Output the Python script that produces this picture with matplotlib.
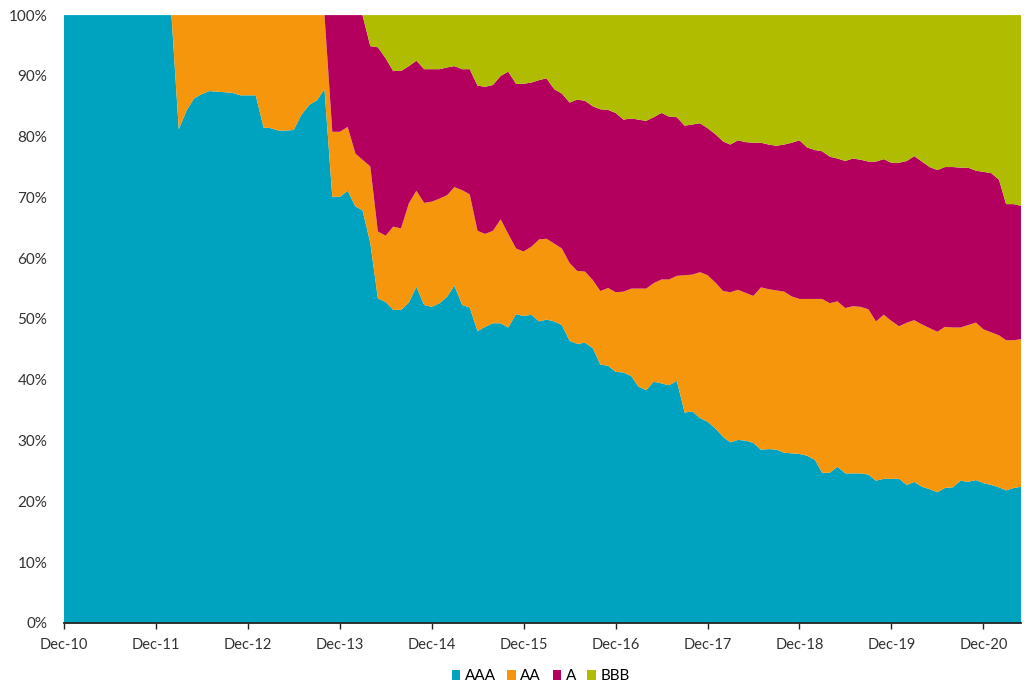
# Rating mix of the portfolio over time, 100% stacked area chart

import matplotlib
matplotlib.use('Agg')
import matplotlib.pyplot as plt
import matplotlib.dates as mdates
import numpy as np
import pandas as pd

plt.rcParams['font.family'] = ['Lato', 'DejaVu Sans']

# monthly, Dec-10 to May-21
months = pd.date_range('2010-12-01', periods=126, freq='MS')

aaa = [100] * 15 + [
    81.2, 84.3, 86.3, 87.0, 87.5, 87.4, 87.3, 87.2, 86.8, 86.8,
    86.8, 81.5, 81.4, 81.0, 81.0, 81.1, 83.6, 85.2, 86.0, 87.8,
    70.1, 70.1, 71.1, 68.5, 67.9, 62.5, 53.4, 52.8, 51.5, 51.5,
    52.7, 55.3, 52.3, 52.0, 52.6, 53.7, 55.5, 52.3, 51.9, 48.0,
    48.7, 49.3, 49.3, 48.6, 50.8, 50.5, 50.7, 49.6, 49.9, 49.6,
    49.0, 46.4, 45.9, 46.1, 45.2, 42.5, 42.3, 41.3, 41.2, 40.6,
    38.9, 38.3, 39.7, 39.4, 39.1, 39.8, 34.6, 34.8, 33.7, 33.1,
    32.0, 30.6, 29.7, 30.1, 30.0, 29.6, 28.5, 28.6, 28.5, 28.0,
    27.9, 27.8, 27.5, 26.8, 24.7, 24.7, 25.7, 24.6, 24.6, 24.6,
    24.4, 23.4, 23.7, 23.7, 23.7, 22.7, 23.2, 22.4, 22.0, 21.5,
    22.2, 22.3, 23.4, 23.2, 23.5, 23.0, 22.7, 22.3, 21.8, 22.2,
    22.4]

aa = [0] * 15 + [
    18.8, 15.7, 13.7, 13.0, 12.5, 12.6, 12.7, 12.8, 13.2, 13.2,
    13.2, 18.5, 18.6, 19.0, 19.0, 18.9, 16.4, 14.8, 14.0, 12.2,
    10.7, 10.7, 10.5, 8.7, 8.3, 12.6, 11.0, 10.9, 13.7, 13.4,
    16.3, 15.8, 16.8, 17.3, 17.2, 16.7, 16.2, 18.9, 18.6, 16.5,
    15.3, 15.2, 17.1, 15.4, 10.8, 10.6, 11.2, 13.5, 13.3, 12.8,
    12.6, 12.8, 12.0, 11.7, 11.2, 12.1, 12.8, 13.1, 13.3, 14.4,
    16.1, 16.7, 16.2, 17.1, 17.4, 17.3, 22.6, 22.5, 24.0, 24.1,
    24.0, 24.0, 24.7, 24.7, 24.3, 24.2, 26.7, 26.3, 26.2, 26.5,
    25.8, 25.5, 25.8, 26.5, 28.6, 27.9, 27.2, 27.2, 27.5, 27.4,
    27.2, 26.2, 27.0, 26.0, 25.1, 26.7, 26.6, 26.7, 26.5, 26.4,
    26.5, 26.3, 25.2, 25.8, 25.9, 25.3, 25.1, 25.0, 24.7, 24.3,
    24.3]

a = [0] * 35 + [
    19.2, 19.2, 18.4, 22.8, 23.8, 19.8, 30.3, 29.2, 25.6, 25.9,
    22.6, 21.4, 22.0, 21.8, 21.3, 21.0, 19.9, 19.9, 20.6, 23.9,
    24.2, 24.0, 23.6, 26.7, 27.1, 27.6, 27.0, 26.2, 26.4, 25.4,
    25.5, 26.4, 28.2, 28.1, 28.6, 29.9, 29.3, 29.5, 28.3, 28.0,
    27.8, 27.6, 27.3, 27.4, 26.8, 26.1, 24.6, 24.7, 24.5, 24.2,
    24.4, 24.6, 24.3, 24.6, 24.8, 25.2, 23.8, 23.8, 23.8, 24.2,
    25.3, 26.1, 24.9, 24.5, 24.3, 24.1, 23.5, 24.2, 24.3, 24.2,
    24.3, 26.3, 25.6, 26.0, 26.9, 26.6, 27.0, 26.8, 26.5, 26.6,
    26.3, 26.4, 26.3, 25.9, 25.0, 25.9, 26.2, 25.6, 22.4, 22.4,
    21.9]

bbb = [0] * 40 + [
    5.1, 5.3, 7.1, 9.2, 9.2, 8.4, 7.5, 8.9, 8.9, 8.9,
    8.6, 8.4, 8.9, 8.9, 11.6, 11.8, 11.5, 10.0, 9.3, 11.3,
    11.3, 11.1, 10.7, 10.4, 12.2, 12.9, 14.4, 13.9, 14.1, 15.0,
    15.5, 15.6, 16.1, 17.2, 17.0, 17.2, 17.4, 16.8, 16.1, 16.7,
    16.8, 18.2, 18.0, 17.8, 18.6, 19.6, 20.8, 21.3, 20.6, 20.9,
    21.0, 21.0, 21.3, 21.5, 21.3, 21.0, 20.6, 21.8, 22.2, 22.4,
    23.3, 23.6, 24.0, 23.6, 23.8, 24.1, 24.1, 23.7, 24.3, 24.3,
    24.0, 23.2, 24.1, 25.0, 25.5, 25.0, 25.0, 25.1, 25.1, 25.6,
    25.8, 26.0, 27.1, 31.1, 31.1, 31.4]

labels = ['AAA', 'AA', 'A', 'BBB']
colors = ['#00a3bf', '#f5960d', '#b3005e', '#b0bc00']


def main():
    fig = plt.figure(figsize=(10.24, 6.86), dpi=100)
    ax = fig.add_axes([0.0625, 0.092, 0.935, 0.886])

    ax.stackplot(months, aaa, aa, a, bbb, labels=labels, colors=colors,
                 linewidth=0)

    ax.set_xlim(months[0], months[-1])
    ax.set_ylim(0, 100)
    ax.set_yticks(np.arange(0, 101, 10))
    ax.set_yticklabels(['{}%'.format(v) for v in range(0, 101, 10)])

    ticks = [d for d in months if d.month == 12]
    ax.set_xticks(ticks)
    ax.xaxis.set_major_formatter(mdates.DateFormatter('%b-%y'))

    for s in ['top', 'right', 'left']:
        ax.spines[s].set_visible(False)
    ax.spines['bottom'].set_color('#222222')
    ax.spines['bottom'].set_linewidth(1.3)
    ax.tick_params(axis='y', length=0, labelsize=11, colors='#333333', pad=12)
    ax.tick_params(axis='x', length=4, width=1, labelsize=10.5,
                   colors='#333333', pad=7, color='#222222')

    handles, lbls = ax.get_legend_handles_labels()
    fig.legend(handles, lbls, loc='center', ncol=4,
               bbox_to_anchor=(0.528, 0.014), frameon=False, fontsize=11,
               handlelength=0.55, handleheight=0.6, handletextpad=0.3,
               columnspacing=0.75)

    fig.savefig('out.png', dpi=100)


if __name__ == '__main__':
    main()
